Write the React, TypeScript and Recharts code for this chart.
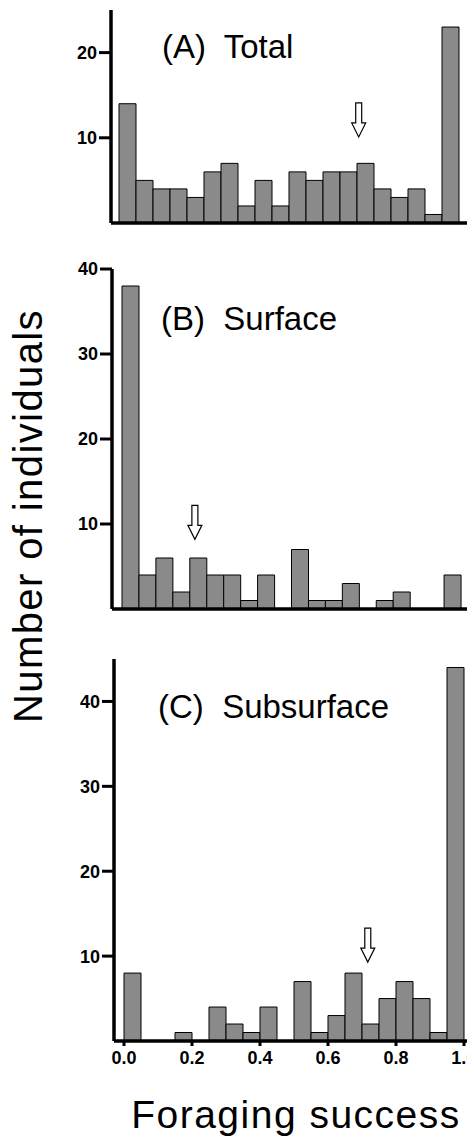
import React from 'react';
import { BarChart, Bar, XAxis, YAxis, ReferenceDot } from 'recharts';

// bin starts, width 0.05
const bins = [0, 0.05, 0.1, 0.15, 0.2, 0.25, 0.3, 0.35, 0.4, 0.45, 0.5, 0.55, 0.6, 0.65, 0.7, 0.75, 0.8, 0.85, 0.9, 0.95];

const totalCounts = [14, 5, 4, 4, 3, 6, 7, 2, 5, 2, 6, 5, 6, 6, 7, 4, 3, 4, 1, 23];
const surfaceCounts = [38, 4, 6, 2, 6, 4, 4, 1, 4, 0, 7, 1, 1, 3, 0, 1, 2, 0, 0, 4];
const subsurfaceCounts = [8, 0, 0, 1, 0, 4, 2, 1, 4, 0, 7, 1, 3, 8, 2, 5, 7, 5, 1, 44];

const xTicks = [0, 0.2, 0.4, 0.6, 0.8, 1.0];
const majorTicks = [[10, 20], [10, 20, 30, 40], [10, 20, 30, 40]];
const minorTicks = [[5, 15, 25], [5, 15, 25, 35], [5, 15, 25, 35, 45]];

// mean foraging success markers (arrow tip)
const arrowX = [0.705, 0.215, 0.717];
const arrowY = [10.1, 8.2, 9.3];

const FONT = '"Liberation Sans", Arial, Helvetica, sans-serif';
const tickFont = { fontSize: 18, fontWeight: 'bold', fill: '#000', fontFamily: FONT };

const toRows = (counts: number[]) => bins.map((b, i) => ({ bin: b, count: counts[i] }));

function Arrow(props: any) {
  const { cx, cy } = props;
  const pts = [
    [cx - 3, cy - 34], [cx + 3, cy - 34], [cx + 3, cy - 14], [cx + 7, cy - 14],
    [cx, cy], [cx - 7, cy - 14], [cx - 3, cy - 14],
  ].map((p) => p.join(',')).join(' ');
  return <polygon points={pts} fill="#fff" stroke="#000" strokeWidth={1.2} />;
}

type PanelProps = {
  gap: number;
  height: number;
  marginTop: number;
  marginRight: number;
  yWidth: number;
  padL: number;
  padR: number;
  yMax: number;
  idx: number;
  counts: number[];
  xHeight: number;
  labels: boolean;
};

function Panel(p: PanelProps) {
  const pad = { left: p.padL, right: p.padR };
  return (
    <div style={{ marginTop: p.gap }}>
      <BarChart
        width={475}
        height={p.height}
        data={toRows(p.counts)}
        margin={{ top: p.marginTop, right: p.marginRight, left: 0, bottom: 0 }}
        barCategoryGap={0}
      >
        <XAxis xAxisId="cat" dataKey="bin" type="category" orientation="top" height={0} hide padding={pad} />
        <XAxis
          xAxisId="num"
          dataKey="bin"
          type="number"
          domain={[0, 1]}
          ticks={xTicks}
          height={p.xHeight}
          padding={pad}
          axisLine={{ stroke: '#000', strokeWidth: 3.5 }}
          tickLine={{ stroke: '#000', strokeWidth: 3 }}
          tickSize={5}
          tickMargin={5}
          tick={p.labels ? tickFont : false}
          tickFormatter={(v: number) => v.toFixed(1)}
        />
        <YAxis
          yAxisId="minor"
          width={0}
          domain={[0, p.yMax]}
          ticks={minorTicks[p.idx]}
          axisLine={false}
          tickLine={{ stroke: '#000', strokeWidth: 3 }}
          tickSize={8}
          tick={false}
        />
        <YAxis
          width={p.yWidth}
          domain={[0, p.yMax]}
          ticks={majorTicks[p.idx]}
          axisLine={{ stroke: '#000', strokeWidth: 3.5 }}
          tickLine={{ stroke: '#000', strokeWidth: 3 }}
          tickSize={12}
          tickMargin={2}
          tick={tickFont}
        />
        <Bar xAxisId="cat" dataKey="count" fill="#8a8a8a" stroke="#000" isAnimationActive={false} />
        <ReferenceDot
          xAxisId="num"
          x={arrowX[p.idx]}
          y={arrowY[p.idx]}
          r={1}
          shape={(sp: any) => <Arrow {...sp} />}
        />
      </BarChart>
    </div>
  );
}

export default function App() {
  return (
    <div style={{ position: 'relative', zIndex: 0, width: 475, height: 1140, margin: '-8px 0 0 -8px' }}>
      <Panel gap={0} height={240} marginTop={10} marginRight={7} yWidth={111} padL={8} padR={9}
        yMax={25} idx={0} counts={totalCounts} xHeight={17} labels={false} />
      <Panel gap={10} height={376} marginTop={19} marginRight={7} yWidth={112} padL={10} padR={7}
        yMax={40} idx={1} counts={surfaceCounts} xHeight={17} labels={false} />
      <Panel gap={14} height={430} marginTop={19} marginRight={3} yWidth={114} padL={10} padR={8}
        yMax={45} idx={2} counts={subsurfaceCounts} xHeight={29} labels={true} />
      <svg width={475} height={1140} style={{ position: 'absolute', left: 0, top: 0, zIndex: -1 }}>
        <g fontFamily={FONT} fill="#000">
          <text x={162} y={58} fontSize={33} style={{ whiteSpace: 'pre' }}>(A)  Total</text>
          <text x={161} y={330} fontSize={33} style={{ whiteSpace: 'pre' }}>(B)  Surface</text>
          <text x={158} y={718} fontSize={33} style={{ whiteSpace: 'pre' }}>(C)  Subsurface</text>
          <text x={42} y={516} fontSize={40} letterSpacing={1.4} textAnchor="middle" transform="rotate(-90 42 516)">
            Number of individuals
          </text>
          <text x={296} y={1128} fontSize={39} letterSpacing={1.5} textAnchor="middle">Foraging success</text>
        </g>
      </svg>
    </div>
  );
}
